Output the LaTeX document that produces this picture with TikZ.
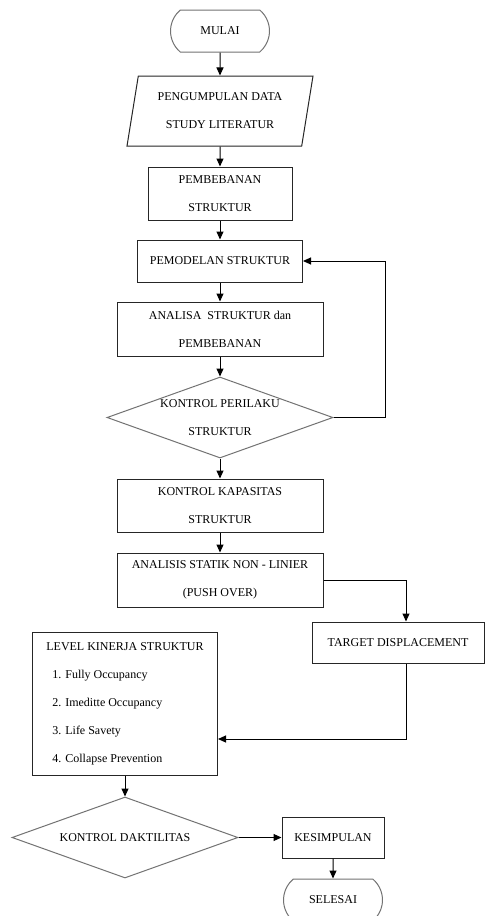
\documentclass[tikz,border=0pt]{standalone}
\usepackage{fontspec}
\setmainfont{Liberation Serif}
\usetikzlibrary{shapes.geometric,shapes.misc,arrows.meta}
\tikzset{
  terminal/.style={draw=black!55, rounded rectangle, rounded rectangle arc length=100, minimum width=99pt, minimum height=42pt, inner sep=0pt},
  datain/.style={draw=black!85, trapezium, trapezium left angle=72.6, trapezium right angle=107.4, trapezium stretches body, minimum width=186pt, minimum height=70pt, inner sep=0pt, align=center},
  proses/.style={draw=black!85, rectangle, inner sep=0pt, align=center},
  keputusan/.style={draw=black!55, diamond, aspect=2.76, inner sep=0pt, align=center},
  panah/.style={-{Triangle[length=8pt,width=7pt]}, black}
}
\begin{document}
\begin{tikzpicture}[x=1pt,y=-1pt,line width=1pt,every node/.style={font=\fontsize{12}{28}\selectfont}]
        \useasboundingbox[fill=white] (0,0) rectangle (486,916);
        \node[terminal] (mulai) at (220,31) {MULAI};
        \node[datain] (data) at (220,111) {PENGUMPULAN DATA\\STUDY LITERATUR};
        \node[proses, minimum width=144pt, minimum height=53pt] (beban) at (220,193.5) {PEMBEBANAN\\STRUKTUR};
        \node[proses, minimum width=165pt, minimum height=42pt] (model) at (220,261) {PEMODELAN STRUKTUR};
        \node[proses, minimum width=206pt, minimum height=54pt] (analisa) at (220,329) {ANALISA\ \ STRUKTUR dan\\PEMBEBANAN};
        \node[keputusan, minimum width=226pt, minimum height=81pt] (perilaku) at (220,417.5) {KONTROL PERILAKU\\STRUKTUR};
        \node[proses, minimum width=206pt, minimum height=53pt] (kapasitas) at (220,505.5) {KONTROL KAPASITAS\\STRUKTUR};
        \node[proses, minimum width=206pt, minimum height=54pt] (pushover) at (220,580) {ANALISIS STATIK NON - LINIER\\(PUSH OVER)};
        \node[proses, minimum width=172pt, minimum height=41pt] (target) at (398,642.5) {TARGET DISPLACEMENT};
        \node[proses, minimum width=185pt, minimum height=143pt, align=left] (level) at (125,703.5) {LEVEL KINERJA STRUKTUR\\\hspace*{6pt}1. Fully Occupancy\\\hspace*{6pt}2. Imeditte Occupancy\\\hspace*{6pt}3. Life Savety\\\hspace*{6pt}4. Collapse Prevention};
        \node[keputusan, minimum width=226pt, minimum height=81pt] (daktil) at (125,837.5) {KONTROL DAKTILITAS};
        \node[proses, minimum width=102pt, minimum height=41pt] (simpul) at (333,837.5) {KESIMPULAN};
        \node[terminal] (selesai) at (333,900) {SELESAI};
        \draw[panah] (mulai) -- (data);
        \draw[panah] (data) -- (beban);
        \draw[panah] (beban) -- (model);
        \draw[panah] (model) -- (analisa);
        \draw[panah] (analisa) -- (perilaku);
        \draw[panah] (perilaku.east) -- ++(52,0) |- (model.east);
        \draw[panah] (perilaku) -- (kapasitas);
        \draw[panah] (kapasitas) -- (pushover);
        \draw[panah] (pushover.east) -| ([xshift=8pt]target.north);
        \draw[panah] ([xshift=8pt]target.south) |- ([yshift=-35.5pt]level.east);
        \draw[panah] (level) -- (daktil);
        \draw[panah] (daktil) -- (simpul);
        \draw[panah] (simpul) -- (selesai);
    \end{tikzpicture}
\end{document}
